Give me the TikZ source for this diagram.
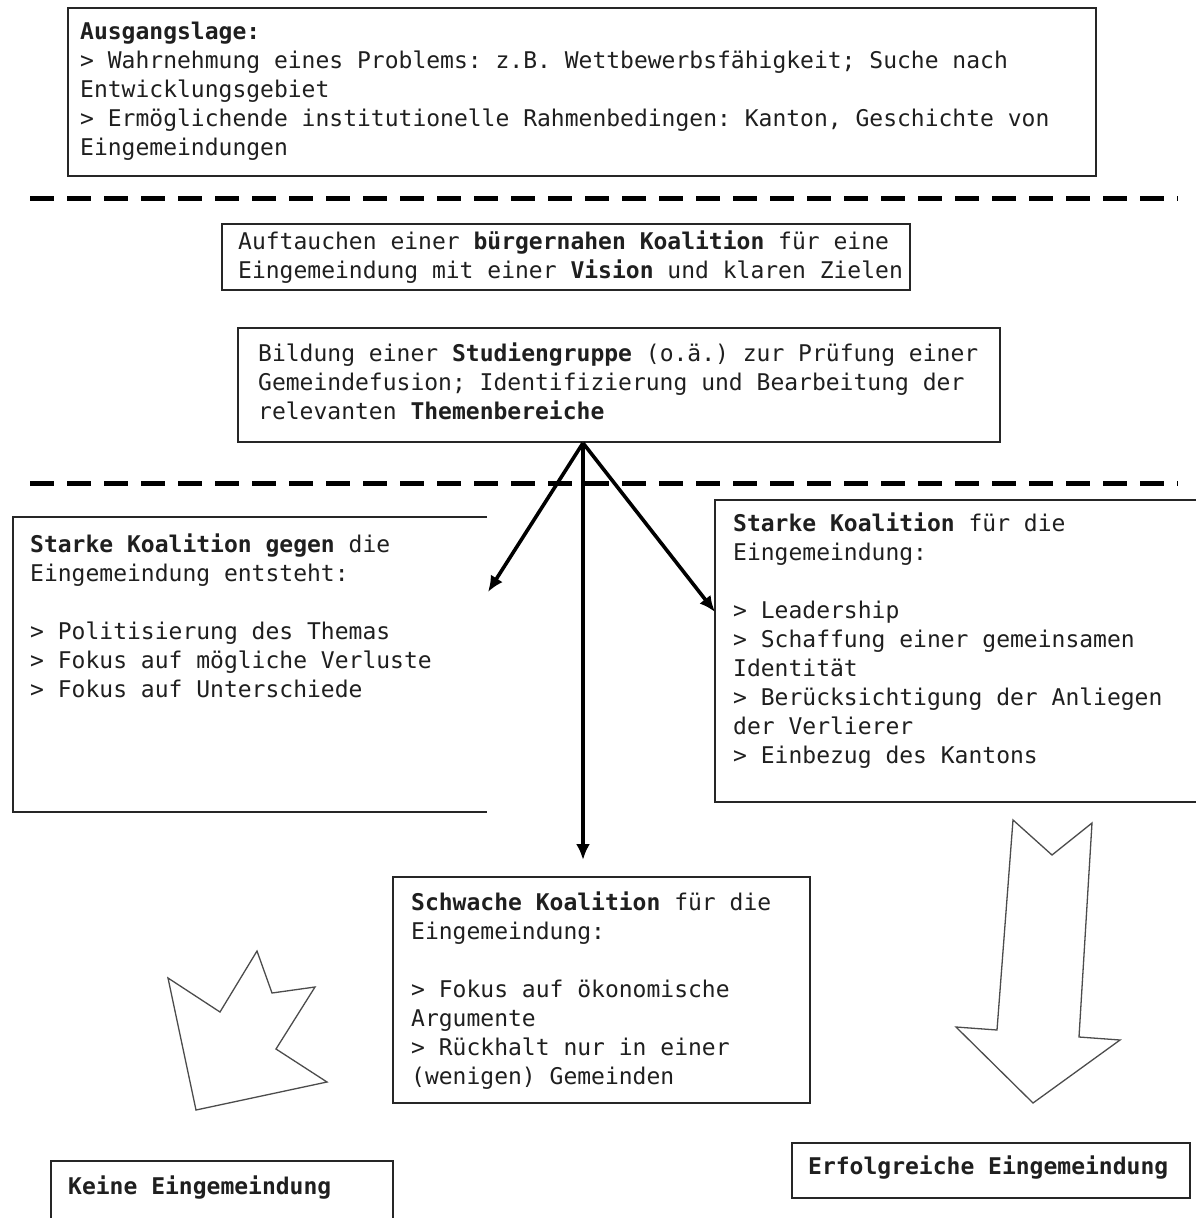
\documentclass[tikz,border=0pt]{standalone}
\usepackage{fontspec}
\setmonofont{DejaVu Sans Mono}
\usetikzlibrary{arrows.meta}
\begin{document}
\begin{tikzpicture}[x=1pt,y=-1pt,
  txt/.style={anchor=north west, inner sep=0pt, align=left, font=\ttfamily\fontsize{23}{29}\selectfont, text=black!88},
  boxline/.style={draw=black!85, line width=1.8pt},
  dashsep/.style={draw=black, line width=5pt, dash pattern=on 24pt off 13pt},
  flow/.style={draw=black, line width=3.6pt, -{Latex[length=16pt,width=14pt]}},
  shapeline/.style={draw=black!70, line width=1.3pt, line join=miter}]
\useasboundingbox[fill=white] (0,0) rectangle (1196,1218);

% separators
\draw[dashsep] (30,198) -- (1178,198);
\draw[dashsep] (30,483) -- (1178,483);

% top box
\draw[boxline] (68,8) rectangle (1096,176);
\node[txt] (lage) at (80,21.5) {\textbf{Ausgangslage:}\\
> Wahrnehmung eines Problems: z.B. Wettbewerbsfähigkeit; Suche nach\\
Entwicklungsgebiet\\
> Ermöglichende institutionelle Rahmenbedingen: Kanton, Geschichte von\\
Eingemeindungen};

% box 2
\draw[boxline] (222,224) rectangle (910,290);
\node[txt] (auftauchen) at (238,230.5) {Auftauchen einer \textbf{bürgernahen Koalition} für eine\\
Eingemeindung mit einer \textbf{Vision} und klaren Zielen};

% box 3
\draw[boxline] (238,328) rectangle (1000,442);
\node[txt] (studien) at (258,342.5) {Bildung einer \textbf{Studiengruppe} (o.ä.) zur Prüfung einer\\
Gemeindefusion; Identifizierung und Bearbeitung der\\
relevanten \textbf{Themenbereiche}};

% left box (open on the right)
\draw[boxline] (487,517) -- (13,517) -- (13,812) -- (487,812);
\node[txt] (gegen) at (30,533.5) {\textbf{Starke Koalition gegen} die\\
Eingemeindung entsteht:\\
\mbox{}\\
> Politisierung des Themas\\
> Fokus auf mögliche Verluste\\
> Fokus auf Unterschiede};

% right box (open on the right)
\draw[boxline] (1198,500) -- (715,500) -- (715,802) -- (1198,802);
\node[txt] (stark) at (733,512.5) {\textbf{Starke Koalition} für die\\
Eingemeindung:\\
\mbox{}\\
> Leadership\\
> Schaffung einer gemeinsamen\\
Identität\\
> Berücksichtigung der Anliegen\\
der Verlierer\\
> Einbezug des Kantons};

% middle box
\draw[boxline] (393,877) rectangle (810,1103);
\node[txt] (schwach) at (411,891.5) {\textbf{Schwache Koalition} für die\\
Eingemeindung:\\
\mbox{}\\
> Fokus auf ökonomische\\
Argumente\\
> Rückhalt nur in einer\\
(wenigen) Gemeinden};

% outcome boxes
\draw[boxline] (51,1222) -- (51,1161) -- (393,1161) -- (393,1222);
\node[txt] (keine) at (68,1176) {\textbf{Keine Eingemeindung}};
\draw[boxline] (792,1143) rectangle (1190,1198);
\node[txt] (erfolg) at (808,1155.5) {\textbf{Erfolgreiche Eingemeindung}};

% connectors
\coordinate (apex) at (583,443);
\coordinate (leftend) at (488,592);
\coordinate (midend) at (583,860);
\coordinate (rightend) at (715,612);
\draw[flow] (apex) -- (leftend);
\draw[flow] (apex) -- (midend);
\draw[flow] (apex) -- (rightend);

% jagged shape (no merger)
\draw[shapeline] (168,978) -- (220,1012) -- (257,951) -- (272,993) -- (315,987)
  -- (276,1049) -- (327,1082) -- (196,1110) -- cycle;

% big down arrow (successful merger)
\draw[shapeline] (1013,820) -- (1052,855) -- (1092,823) -- (1079,1037) -- (1120,1040)
  -- (1033,1103) -- (956,1027) -- (997,1030) -- cycle;
\end{tikzpicture}
\end{document}
